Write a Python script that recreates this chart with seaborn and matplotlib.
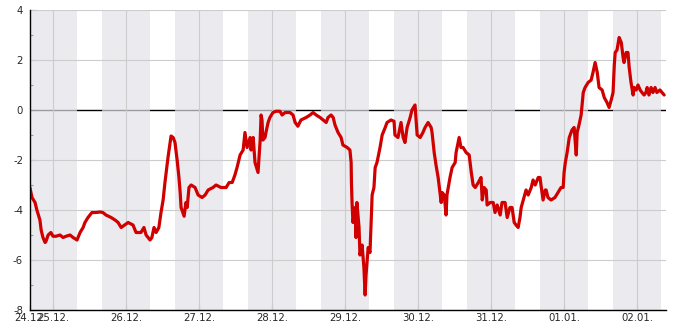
import numpy as np
import pandas as pd
import matplotlib
matplotlib.use("Agg")
import matplotlib.pyplot as plt
import seaborn as sns

# hours since 24.12. 00:00
hours = [16.4, 17.1, 18.1, 18.7, 19.7, 20.1, 20.7, 21.4, 21.7, 22.4, 23.3, 24.0, 25.0, 26.3, 27.3, 28.3,
         29.6, 30.6, 31.9, 32.9, 33.9, 34.5, 35.5, 36.8, 38.1, 39.5, 40.4, 41.4, 43.1, 44.4, 45.4, 46.4,
         48.7, 50.3, 51.3, 52.9, 53.9, 54.6, 55.9, 56.5, 57.2, 57.9, 58.8, 59.5, 60.2, 60.8, 61.2, 61.8,
         62.5, 62.8, 63.5, 64.1, 64.8, 65.4, 65.8, 66.1, 67.1, 67.7, 68.1, 68.7, 69.4, 70.7, 71.7, 73.0,
         74.0, 75.0, 76.6, 77.6, 79.2, 80.9, 81.9, 82.9, 83.8, 84.5, 85.5, 86.5, 87.1, 87.8, 88.8, 89.1,
         89.8, 90.4, 91.4, 92.1, 92.4, 92.7, 93.0, 93.7, 94.0, 94.7, 95.3, 96.3, 97.3, 98.6, 99.3, 100.3,
         101.9, 102.9, 103.6, 104.5, 105.5, 107.2, 108.5, 109.5, 110.5, 111.8, 112.8, 113.8, 114.4, 115.4,
         116.1, 116.7, 117.7, 118.7, 119.3, 120.7, 121.6, 122.0, 122.1, 122.3, 122.6, 123.3, 123.6, 123.9,
         124.6, 124.9, 125.6, 126.2, 126.6, 126.9, 127.6, 128.2, 128.5, 128.9, 129.5, 129.9, 130.5, 131.5,
         132.2, 133.2, 133.8, 135.1, 136.1, 136.4, 137.4, 138.4, 139.1, 139.7, 140.4, 141.4, 142.0, 143.0,
         143.7, 144.7, 145.6, 146.3, 147.3, 148.3, 148.6, 149.3, 149.9, 150.6, 151.2, 151.6, 151.9, 152.6,
         153.2, 153.5, 154.5, 155.2, 156.2, 156.5, 157.5, 158.1, 158.8, 159.8, 160.8, 161.5, 162.1, 162.8,
         163.8, 164.7, 165.1, 165.7, 166.4, 166.7, 167.7, 168.7, 169.3, 170.0, 171.0, 171.6, 172.6, 173.3,
         174.2, 174.9, 175.6, 176.2, 176.9, 177.5, 177.9, 178.8, 179.5, 180.2, 181.2, 181.8, 182.5, 183.5,
         184.1, 184.4, 185.1, 185.8, 186.1, 186.7, 187.7, 189.0, 190.0, 191.0, 191.7, 192.0, 192.4, 193.0,
         193.7, 194.6, 195.3, 196.0, 196.3, 196.9, 197.6, 197.9, 198.3, 198.9, 199.9, 200.9, 201.5, 202.2,
         202.9, 203.5, 204.5, 205.2, 206.1, 206.8, 207.5, 208.1, 208.5, 208.8, 209.4, 210.1, 210.8, 211.4,
         211.7, 212.4, 213.0, 213.4, 214.0, 214.7, 215.0, 215.7, 216.3, 217.0, 217.6, 218.3, 218.9, 219.3,
         219.9, 220.6, 221.2, 221.9, 222.5, 223.5, 224.2, 224.9]
values = [-3.1, -3.5, -3.7, -4.0, -4.4, -4.8, -5.1, -5.3, -5.25, -5.0, -4.9, -5.05, -5.05, -5.0, -5.1, -5.05,
          -5.0, -5.1, -5.2, -4.9, -4.7, -4.5, -4.3, -4.1, -4.1, -4.08, -4.1, -4.2, -4.3, -4.4, -4.5, -4.7,
          -4.5, -4.6, -4.9, -4.9, -4.7, -5.0, -5.2, -5.1, -4.7, -4.9, -4.7, -4.1, -3.6, -2.9, -2.5, -1.9,
          -1.3, -1.04, -1.1, -1.3, -2.0, -2.7, -3.3, -3.9, -4.25, -3.7, -3.9, -3.1, -3.0, -3.1, -3.4, -3.5,
          -3.4, -3.2, -3.1, -3.0, -3.1, -3.1, -2.9, -2.9, -2.6, -2.3, -1.8, -1.6, -0.9, -1.5, -1.1, -1.6,
          -1.1, -2.1, -2.5, -1.2, -0.2, -0.4, -1.2, -1.1, -0.9, -0.5, -0.3, -0.1, -0.05, -0.05, -0.2, -0.1,
          -0.1, -0.2, -0.5, -0.65, -0.4, -0.3, -0.2, -0.1, -0.2, -0.3, -0.4, -0.5, -0.3, -0.2,
          -0.3, -0.6, -0.9, -1.1, -1.4, -1.5, -1.6, -2.1, -2.9, -3.7, -4.5, -3.9, -5.1, -3.7,
          -4.7, -5.8, -5.4, -6.3, -7.4, -6.6, -5.5, -5.7, -4.7, -3.4, -3.1, -2.3, -2.1, -1.5,
          -1.0, -0.7, -0.5, -0.4, -0.45, -1.0, -1.1, -0.5, -1.1, -1.3, -0.7, -0.3, 0.0, 0.2,
          -1.0, -1.1, -0.9, -0.7, -0.5, -0.7, -0.9, -1.7, -2.2, -2.7, -3.3, -3.7, -3.3, -3.4,
          -4.2, -3.4, -2.7, -2.3, -2.1, -1.7, -1.1, -1.5, -1.5, -1.7, -1.8, -2.5, -3.0, -3.1,
          -2.9, -2.7, -3.6, -3.1, -3.2, -3.8, -3.7, -3.7, -4.1, -3.8, -4.2, -3.7, -3.7, -4.3,
          -3.9, -3.9, -4.5, -4.6, -4.7, -4.3, -3.9, -3.5, -3.2, -3.4, -3.1, -2.8, -3.0, -2.7,
          -2.7, -3.0, -3.6, -3.2, -3.2, -3.5, -3.6, -3.5, -3.3, -3.1, -3.1, -2.5, -2.1, -1.7,
          -1.1, -0.8, -0.7, -1.8, -0.9, -0.6, -0.2, 0.2, 0.7, 0.9, 1.1, 1.2, 1.5, 1.9,
          1.5, 0.9, 0.8, 0.5, 0.3, 0.1, 0.4, 0.7, 1.8, 2.3, 2.4, 2.9, 2.7, 2.1,
          1.9, 2.3, 2.3, 1.7, 1.1, 0.6, 0.9, 0.8, 1.0, 0.8, 0.7, 0.6, 0.7, 0.9,
          0.6, 0.9, 0.7, 0.9, 0.7, 0.8, 0.7, 0.6]

day_labels = ["24.12.", "25.12.", "26.12.", "27.12.", "28.12.", "29.12.", "30.12.", "31.12.", "01.01.", "02.01."]
x_start, x_end = 16.44, 225.5
night_start, night_len = 16, 16  # shaded from 16:00 to 08:00

sns.set_style("white")
plt.rcParams["font.family"] = ["DejaVu Sans"]
plt.rcParams["font.size"] = 7.3

fig = plt.figure(figsize=(6.85, 3.3), dpi=100)
ax = fig.add_axes([30 / 685, 1 - 310 / 330, 636 / 685, 300 / 330])

y_major = list(range(-8, 5, 2))
day_ticks = [24 * (k + 1) for k in range(9)]

# zero line below the shading, grid above it
ax.axhline(0, color="black", lw=1.0, zorder=0.5)
for k in range(10):
    s = night_start + 24 * k
    ax.axvspan(s, s + night_len, facecolor=(0.882, 0.882, 0.914), alpha=0.69, lw=0, zorder=1)
ax.grid(False)
for yv in y_major:
    if yv != 0:
        ax.axhline(yv, color="#cccccc", lw=0.8, zorder=1.5)
for xv in day_ticks:
    ax.axvline(xv, color="#cccccc", lw=0.8, zorder=1.5)

df = pd.DataFrame({"h": hours, "v": values})
sns.lineplot(data=df, x="h", y="v", ax=ax, color="#d00000", lw=2.3, zorder=3, sort=False)

ax.set_xlim(x_start, x_end)
ax.set_ylim(-8, 4)
ax.set_yticks(y_major)
ax.set_yticks(np.arange(-7, 4, 2), minor=True)
ax.set_yticklabels([str(v) for v in y_major])
ax.set_xticks([x_start] + day_ticks)
ax.set_xticklabels(day_labels)
ax.set_xlabel("")
ax.set_ylabel("")

ax.tick_params(axis="y", which="major", direction="in", length=4, width=0.8, color="black", pad=5, left=True)
ax.tick_params(axis="y", which="minor", direction="in", length=2.5, width=0.8, color="black", left=True)
ax.tick_params(axis="x", which="major", direction="in", length=4.5, width=0.8, color="black", pad=2.5, bottom=True)

for side in ["top", "right"]:
    ax.spines[side].set_visible(False)
for side in ["left", "bottom"]:
    ax.spines[side].set_color("black")
    ax.spines[side].set_linewidth(1.0)
    ax.spines[side].set_zorder(4)

fig.savefig("out.png", dpi=100)
